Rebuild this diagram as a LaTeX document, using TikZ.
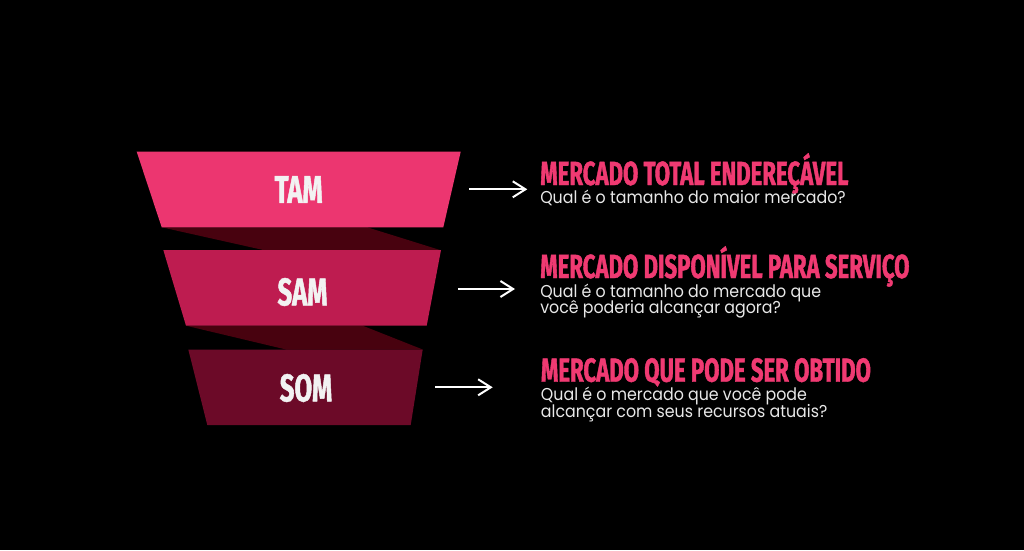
\documentclass[tikz,border=0pt]{standalone}
\usepackage{fontspec}
\setmainfont[FakeStretch=0.92]{Poppins}
\newfontfamily\headfont[FakeStretch=0.665,BoldFeatures={FakeBold=1.2}]{Fira Sans}
\usetikzlibrary{arrows.meta}
\definecolor{bgc}{HTML}{000000}
\definecolor{tamc}{HTML}{EC3670}
\definecolor{samc}{HTML}{BE1C50}
\definecolor{somc}{HTML}{6C0A28}
\definecolor{shadec}{HTML}{48020F}
\definecolor{headc}{HTML}{F03A72}
\definecolor{subc}{HTML}{E8E8E8}
\definecolor{labc}{HTML}{F2F2F2}
\begin{document}
\begin{tikzpicture}[x=0.75pt,y=-0.75pt,
  lab/.style={text=labc,font=\headfont\bfseries\fontsize{29}{29}\selectfont,inner sep=0pt},
  head/.style={text=headc,font=\headfont\bfseries\fontsize{25}{25}\selectfont,anchor=base west,inner sep=0pt},
  subt/.style={text=subc,font=\fontsize{12.9}{12.9}\selectfont,anchor=base west,inner sep=0pt},
  arr/.style={draw=white,line width=1.5pt,-{Straight Barb[length=9.5pt,width=12pt,line width=1.5pt]}}]
\fill[bgc] (0,0) rectangle (1024,550);
% shadows
\fill[shadec] (161.7,227.3) -- (367.3,227.3) -- (440,250) -- (263.3,250) -- cycle;
\fill[shadec] (186,325.7) -- (362.7,325.7) -- (422.7,349.5) -- (286,349.5) -- cycle;
% trapezoids
\fill[tamc] (136.7,151.7) -- (460.7,151.7) -- (443.3,227.3) -- (161.7,227.3) -- cycle;
\fill[samc] (163.3,250) -- (441,250) -- (426.7,325.7) -- (186,325.7) -- cycle;
\fill[somc] (188.3,349.5) -- (422.7,349.5) -- (410.7,425) -- (207.3,425) -- cycle;
% labels
\node[lab] (tam) at (298.7,189.5) {TAM};
\node[lab] (sam) at (302.5,292) {SAM};
\node[lab] (som) at (306,388) {SOM};
% arrows
\coordinate (a1s) at (469.3,189.3);
\coordinate (a1e) at (527.3,189.3);
\coordinate (a2s) at (458.3,289);
\coordinate (a2e) at (515,289);
\coordinate (a3s) at (435,387.3);
\coordinate (a3e) at (492.7,387.3);
\draw[arr] (a1s) -- (a1e);
\draw[arr] (a2s) -- (a2e);
\draw[arr] (a3s) -- (a3e);
% texts
\node[head] (h1) at (540,185) {MERCADO TOTAL ENDEREÇÁVEL};
\node[subt] (s1) at (540,203) {Qual é o tamanho do maior mercado?};
\node[head] (h2) at (540,278) {MERCADO DISPONÍVEL PARA SERVIÇO};
\node[subt] (s2a) at (540,297) {Qual é o tamanho do mercado que};
\node[subt] (s2b) at (540,313.5) {você poderia alcançar agora?};
\node[head] (h3) at (540.7,381.7) {MERCADO QUE PODE SER OBTIDO};
\node[subt] (s3a) at (540.7,400.7) {Qual é o mercado que você pode};
\node[subt] (s3b) at (540.7,417.3) {alcançar com seus recursos atuais?};
\end{tikzpicture}
\end{document}
